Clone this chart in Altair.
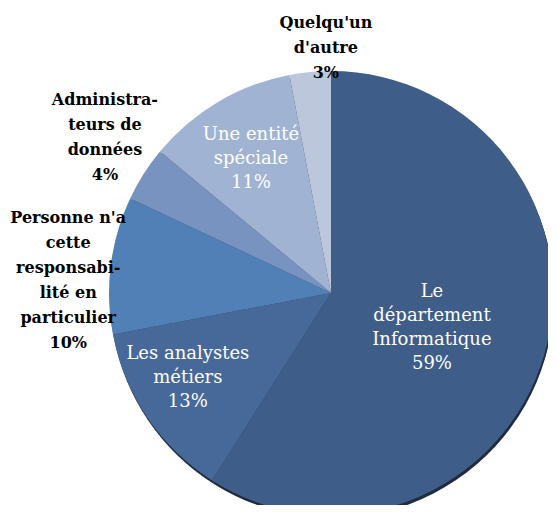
import altair as alt
import pandas as pd

categories = [
    "Le département Informatique",
    "Les analystes métiers",
    "Personne n'a cette responsabilité en particulier",
    "Administrateurs de données",
    "Une entité spéciale",
    "Quelqu'un d'autre",
]
values = [59, 13, 10, 4, 11, 3]
labels = [
    "Le\ndépartement\nInformatique\n59%",
    "Les analystes\nmétiers\n13%",
    "Personne n'a\ncette\nresponsabi-\nlité en\nparticulier\n10%",
    "Administra-\nteurs de\ndonnées\n4%",
    "Une entité\nspéciale\n11%",
    "Quelqu'un\nd'autre\n3%",
]
colors = ["#3E5D88", "#47699A", "#5080B5", "#7893C0", "#A1B3D3", "#BCC7DC"]
# label placement (layout settings): distance from centre and angular nudge in degrees
label_dist = [107, 167, 263, 274, 155, 244]
label_nudge = [3.2, 3.2, -4.8, 2.0, -0.5, 4.2]
label_inside = [True, True, False, False, True, False]

df = pd.DataFrame({
    "cat": categories,
    "val": values,
    "label": labels,
    "order": list(range(len(categories))),
    "ld": label_dist,
    "nudge": label_nudge,
    "inside": label_inside,
})

CX, CY, R = 323, 285, 222
LH_IN, LH_OUT = 24, 25

base = alt.Chart(df)

theta = alt.Theta("val:Q", stack=True)
order = alt.Order("order:Q")

shadow = base.mark_arc(color="#1E2B40").encode(
    theta=theta, order=order,
    x=alt.value(CX + 1), y=alt.value(CY + 3), radius=alt.value(R),
)

pie = base.mark_arc(stroke=None).encode(
    theta=theta, order=order,
    color=alt.Color("cat:N", scale=alt.Scale(domain=categories, range=colors), legend=None),
    x=alt.value(CX), y=alt.value(CY), radius=alt.value(R),
)

stacked = base.transform_stack(
    stack="val", groupby=[], as_=["v0", "v1"], sort=[alt.SortField("order")]
).transform_calculate(
    ang="(datum.v0 + datum.v1) / 2 / 100 * 2 * PI + datum.nudge * PI / 180",
    nl="length(split(datum.label, '\\n'))",
    lh=f"datum.inside ? {LH_IN} : {LH_OUT}",
).transform_calculate(
    lx=f"{CX} + datum.ld * sin(datum.ang)",
    ly=f"{CY - 1} - datum.ld * cos(datum.ang) - (datum.nl - 1) * datum.lh / 2",
)

enc = dict(
    x=alt.X("lx:Q", scale=None, axis=None),
    y=alt.Y("ly:Q", scale=None, axis=None),
    text="label:N",
)

txt_in = stacked.transform_filter("datum.inside").mark_text(
    font="DejaVu Serif", fontSize=18, lineBreak="\n", lineHeight=LH_IN,
    color="white", baseline="middle", align="center",
).encode(**enc)

txt_out = stacked.transform_filter("!datum.inside").mark_text(
    font="DejaVu Serif", fontSize=16, fontWeight="bold", lineBreak="\n", lineHeight=LH_OUT,
    color="black", baseline="middle", align="center",
).encode(**enc)

chart = alt.layer(shadow, pie, txt_in, txt_out).properties(
    width=540, height=497, autosize="none", padding=0,
).configure_view(stroke=None)

chart.save("out.html", embed_options={"renderer": "svg", "actions": False})
